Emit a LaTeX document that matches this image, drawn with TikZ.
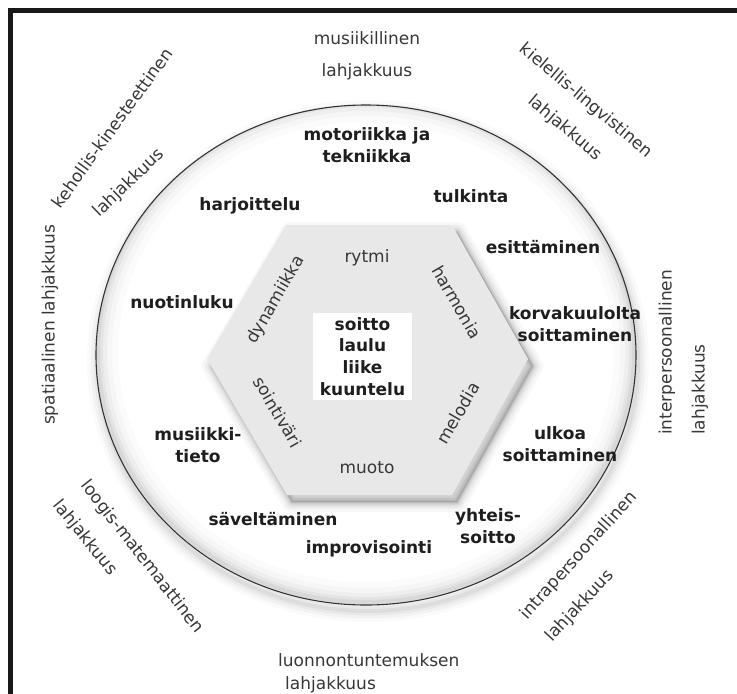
\documentclass[tikz,border=0pt]{standalone}
\usepackage{fontspec}
\setmainfont{DejaVu Sans}
\definecolor{hexfill}{RGB}{232,232,232}
\definecolor{txt}{RGB}{30,30,30}
\definecolor{otxt}{RGB}{55,55,55}
\definecolor{framec}{RGB}{25,25,25}
\tikzset{
  blab/.style={font=\fontsize{17}{22}\selectfont\bfseries, text=txt, align=center, inner sep=0pt},
  olab/.style={font=\fontsize{17}{22}\selectfont, text=otxt, inner sep=0pt},
  hlab/.style={font=\fontsize{17}{22}\selectfont, text=otxt, inner sep=0pt},
}
\begin{document}
\begin{tikzpicture}[x=1pt,y=-1pt]
\useasboundingbox (0,0) rectangle (737,694);
% frame
\draw[framec, line width=4.5pt] (737,10.5) -- (10.5,10.5) -- (10.5,694);
% outer shadow of the disk
\begin{scope}[shift={(2,6)}]
  \foreach \w/\o in {22/0.02,15/0.03,9/0.04,4/0.05}
    \draw[line width=\w pt, opacity=\o] (366,355) ellipse [x radius=270pt, y radius=250pt];
\end{scope}
\fill[white] (366,355) ellipse [x radius=270pt, y radius=250pt];
% inner shadow
\begin{scope}
  \clip (366,355) ellipse [x radius=270pt, y radius=250pt];
  \foreach \w/\o in {40/0.015,28/0.02,18/0.03,10/0.04,4/0.05}
    \draw[line width=\w pt, opacity=\o] (366,352) ellipse [x radius=268pt, y radius=250pt];
\end{scope}
\draw[black!80, line width=1.1pt] (366,355) ellipse [x radius=270pt, y radius=250pt];
% hexagon shadow
\begin{scope}[shift={(5,7)}]
  \foreach \w/\o in {20/0.03,14/0.04,9/0.05,5/0.07,2/0.09}
    \draw[line width=\w pt, line join=round, opacity=\o] (207,359) -- (286,225) -- (452,225) -- (528,359) -- (452,495) -- (287,495) -- cycle;
  \fill[opacity=0.12] (207,359) -- (286,225) -- (452,225) -- (528,359) -- (452,495) -- (287,495) -- cycle;
\end{scope}
\fill[hexfill] (207,359) -- (286,225) -- (452,225) -- (528,359) -- (452,495) -- (287,495) -- cycle;
% core
\node[fill=white, minimum width=99pt, minimum height=87pt, align=center, inner sep=0pt,
      font=\fontsize{17}{21.7}\selectfont\bfseries, text=txt] (core) at (362.5,356.5)
      {soitto\\laulu\\liike\\kuuntelu};
% hexagon labels
\node[hlab] (rytmi) at (367,258) {rytmi};
\node[hlab, rotate=-60] (harmonia) at (457,302) {harmonia};
\node[hlab, rotate=60] (melodia) at (458,413) {melodia};
\node[hlab] (muoto) at (367,468) {muoto};
\node[hlab, rotate=-60] (sointivari) at (278,412) {sointiväri};
\node[hlab, rotate=60] (dynamiikka) at (276,300) {dynamiikka};
% bold labels
\node[blab] (motoriikka) at (367,145) {motoriikka ja\\tekniikka};
\node[blab] (tulkinta) at (471,196) {tulkinta};
\node[blab] (harjoittelu) at (250,206) {harjoittelu};
\node[blab] (esittaminen) at (543,247) {esittäminen};
\node[blab] (nuotinluku) at (182,302) {nuotinluku};
\node[blab] (korvakuulolta) at (575,324) {korvakuulolta\\soittaminen};
\node[blab] (musiikkitieto) at (198,445) {musiikki-\\tieto};
\node[blab] (ulkoa) at (560,444) {ulkoa\\soittaminen};
\node[blab] (saveltaminen) at (273,519) {säveltäminen};
\node[blab] (yhteissoitto) at (488,526) {yhteis-\\soitto};
\node[blab] (improvisointi) at (369,549) {improvisointi};
% outer labels
\node[olab] (musiikillinen) at (367,38) {musiikillinen};
\node[olab] (lahjA) at (367,72) {lahjakkuus};
\node[olab, rotate=-40] (kielellis) at (586,101) {kielellis-lingvistinen};
\node[olab, rotate=-40] (lahjB) at (565,128) {lahjakkuus};
\node[olab, rotate=54] (kehollis) at (112,128) {kehollis-kinesteettinen};
\node[olab, rotate=44] (lahjC) at (129,183) {lahjakkuus};
\node[olab, rotate=90] (spatiaalinen) at (50,325) {spatiaalinen lahjakkuus};
\node[olab, rotate=90, anchor=west] (interpers) at (667,435) {interpersoonallinen};
\node[olab, rotate=90, anchor=west] (lahjD) at (700,435) {lahjakkuus};
\node[olab, rotate=-52] (loogis) at (142,557) {loogis-matemaattinen};
\node[olab, rotate=-51] (lahjE) at (85,538) {lahjakkuus};
\node[olab, rotate=48] (intrapers) at (579,556) {intrapersoonallinen};
\node[olab, rotate=47] (lahjF) at (580,606) {lahjakkuus};
\node[olab, anchor=west] (luonnon) at (278,660) {luonnontuntemuksen};
\node[olab, anchor=west] (lahjG) at (285,685) {lahjakkuus};
\end{tikzpicture}
\end{document}
